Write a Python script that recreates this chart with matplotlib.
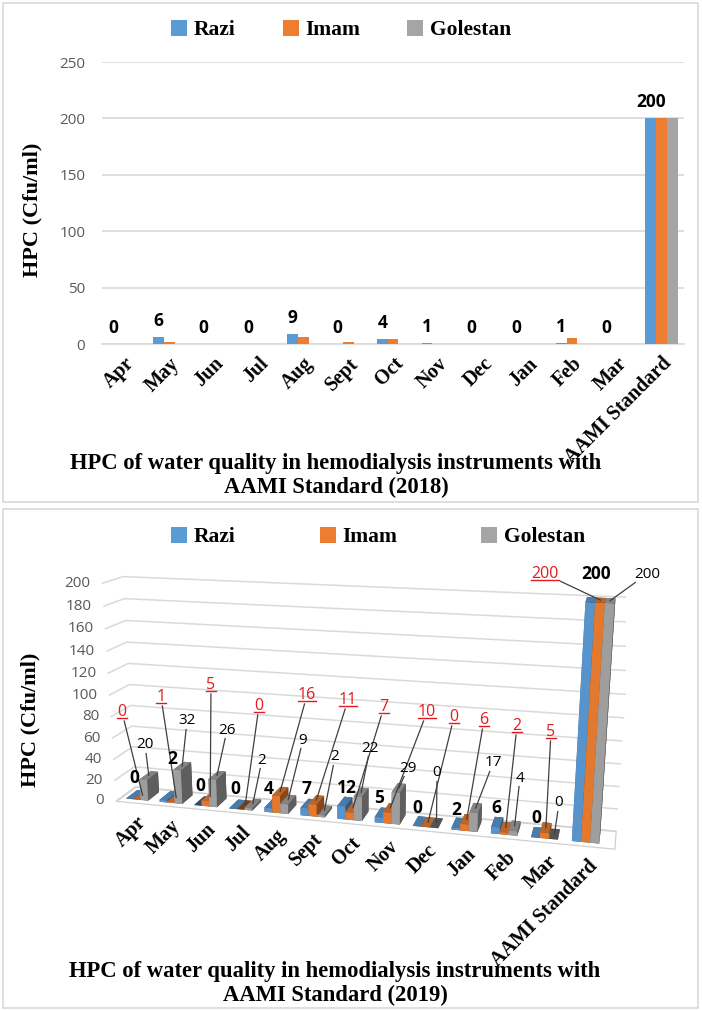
"""Two panels: HPC of water quality in hemodialysis instruments, 2018 (flat bars) and 2019 (3D bars)."""
import numpy as np
import matplotlib
matplotlib.use("Agg")
import matplotlib.pyplot as plt
from matplotlib.patches import Rectangle
from matplotlib.colors import LightSource
from mpl_toolkits.mplot3d.art3d import Poly3DCollection

# ---- data ----
months = ["Apr", "May", "Jun", "Jul", "Aug", "Sept", "Oct", "Nov", "Dec",
          "Jan", "Feb", "Mar", "AAMI Standard"]
series = ["Razi", "Imam", "Golestan"]
colors = ["#5B9BD5", "#ED7D31", "#A5A5A5"]

razi_2018 = [0, 6, 0, 0, 9, 0, 4, 1, 0, 0, 1, 0, 200]
imam_2018 = [0, 2, 0, 0, 6, 2, 4, 0, 0, 0, 5, 0, 200]
golestan_2018 = [0, 0, 0, 0, 0, 0, 0, 0, 0, 0, 0, 0, 200]

razi_2019 = [0, 2, 0, 0, 4, 7, 12, 5, 0, 2, 6, 0, 200]
imam_2019 = [0, 1, 5, 0, 16, 11, 7, 10, 0, 6, 2, 5, 200]
golestan_2019 = [20, 32, 26, 2, 9, 2, 22, 29, 0, 17, 4, 0, 200]

# hand placed label spots of the 2019 panel (image pixels)
razi_lbl_xy = [(134, 778), (172, 759), (200, 786), (235, 789), (269, 789), (306, 789), (347, 788),
               (379, 798), (417, 808), (456, 810), (496, 808), (536, 818), (596, 574)]
imam_lbl_xy = [(122, 712), (161, 697), (211, 685), (259, 706), (307, 695), (348, 700), (384, 707),
               (427, 712), (454, 717), (484, 720), (517, 726), (551, 732), (545, 574)]
gol_lbl_xy = [(145, 745), (187, 721), (227, 730), (262, 760), (303, 740), (335, 757), (370, 748),
              (408, 768), (437, 773), (493, 763), (520, 778), (559, 803), (647, 574)]

SERIF = "Liberation Serif"
SANS = "Open Sans"
RED = "#E31A1C"
W, H = 702, 1010

fig = plt.figure(figsize=(W / 100, H / 100), dpi=100)

# overlay in image pixels, for frames, titles and labels
ov = fig.add_axes([0, 0, 1, 1])
ov.set_xlim(0, W)
ov.set_ylim(H, 0)
ov.axis("off")
ov.patch.set_alpha(0)
ov.set_zorder(10)
ov.add_patch(Rectangle((2.5, 2.5), 695, 499, fill=False, ec="#D9D9D9", lw=1.2))
ov.add_patch(Rectangle((2.5, 508.5), 695, 499, fill=False, ec="#D9D9D9", lw=1.2))

# ---------------- 2018 panel ----------------
ax = fig.add_axes([102 / W, 1 - 344 / H, 582 / W, 282 / H])
x = np.arange(len(months))
bw = 0.24
bars = []
for j, vals in enumerate([razi_2018, imam_2018, golestan_2018]):
    bars.append(ax.bar(x + (j - 1) * bw, vals, width=bw, color=colors[j], label=series[j], zorder=3))
for xi, v in zip(x, razi_2018):
    ax.annotate(str(v), (xi - bw, v), xytext=(0, 11), textcoords="offset pixels",
                ha="center", va="baseline", fontfamily=SANS, fontweight="bold", fontsize=12.5)
ax.set_xlim(-0.5, 12.5)
ax.set_ylim(0, 250)
ax.set_yticks(range(0, 251, 50))
ax.grid(axis="y", color="#D9D9D9", lw=1.2, zorder=0)
for s in ["top", "left", "right"]:
    ax.spines[s].set_visible(False)
ax.spines["bottom"].set_color("#D9D9D9")
ax.spines["bottom"].set_linewidth(1.2)
ax.tick_params(axis="y", length=0, pad=12, labelsize=11, labelcolor="#595959")
for t in ax.get_yticklabels():
    t.set_fontfamily(SANS)
ax.set_xticks(x)
ax.set_xticklabels(months, rotation=45, ha="right", rotation_mode="anchor",
                   fontfamily=SERIF, fontweight="bold", fontsize=14.5)
ax.tick_params(axis="x", length=0, pad=7)

fig.legend(handles=bars, labels=series, loc="center", bbox_to_anchor=(341 / W, 1 - 30 / H), ncol=3,
           frameon=False, prop=dict(family=SERIF, weight="bold", size=15.5),
           handlelength=0.75, handleheight=0.75, handletextpad=0.3, columnspacing=2.2)
ov.text(32, 210, "HPC (Cfu/ml)", rotation=90, ha="center", va="center",
        fontfamily=SERIF, fontweight="bold", fontsize=16)
ov.text(336, 463, "HPC of water quality in hemodialysis instruments with", ha="center", va="center",
        fontfamily=SERIF, fontweight="bold", fontsize=16.3)
ov.text(336, 487, "AAMI Standard (2018)", ha="center", va="center",
        fontfamily=SERIF, fontweight="bold", fontsize=16.3)

# ---------------- 2019 panel (3D) ----------------
S = 553.5
ax3 = fig.add_axes([72.5 / W, 19.8 / H, S / W, S / H], projection="3d")
ax3.patch.set_facecolor("none")
ax3.set_axis_off()
ax3.computed_zorder = False
ax3.set_proj_type("persp", focal_length=0.36)
ax3.view_init(elev=15.4, azim=-75.5)
ax3.set_xlim(-0.5, 12.7)
ax3.set_ylim(0, 1)
ax3.set_zlim(0, 200)
ax3.set_box_aspect((510, 45, 230))

zt = list(range(0, 201, 20))
for z in zt:
    ax3.plot([-0.5, -0.5, 12.7], [0, 1, 1], [z, z, z], color="#D9D9D9", lw=1.1, zorder=1)
floor = Poly3DCollection([[(-0.5, 0, 0), (12.7, 0, 0), (12.7, 1, 0), (-0.5, 1, 0)]],
                         facecolor="white", edgecolor="#D0D0D0", lw=0.9, zorder=2)
ax3.add_collection3d(floor)

bx, bz, bc = [], [], []
for j, vals in enumerate([razi_2019, imam_2019, golestan_2019]):
    for i, v in enumerate(vals):
        bx.append(i - 0.33 + 0.22 * j)
        bz.append(v)
        bc.append(colors[j])
bx = np.array(bx)
bz = np.array(bz, dtype=float)
with np.errstate(invalid="ignore", divide="ignore"):
    ax3.bar3d(bx, np.full(len(bx), 0.2), np.zeros(len(bx)), 0.22, 0.6, bz,
              color=bc, shade=True, lightsource=LightSource(azdeg=195, altdeg=25), zorder=3)

fig.canvas.draw()
M = ax3.get_proj()


def to_px(xx, yy, zz):
    p = M @ np.array([xx, yy, zz, 1.0])
    d = ax3.transData.transform((p[0] / p[3], p[1] / p[3]))
    return d[0], H - d[1]


for z in zt:
    gx, gy = to_px(-0.5, 0, z)
    ov.text(gx - 12, gy, str(z), ha="right", va="center", fontfamily=SANS,
            fontsize=11, color="#595959")
for i, m in enumerate(months):
    tx, ty = to_px(i, 0, 0)
    ov.text(tx + 3, ty + 10, m, rotation=45, ha="right", va="top", rotation_mode="anchor",
            fontfamily=SERIF, fontweight="bold", fontsize=14.5)

# data labels; Imam and Golestan ones are tied to their bars by leader lines
pending = []
for i in range(len(months)):
    ov.text(*razi_lbl_xy[i], str(razi_2019[i]), ha="center", va="center",
            fontfamily=SANS, fontweight="bold", fontsize=12.5)
    t = ov.text(*imam_lbl_xy[i], str(imam_2019[i]), ha="center", va="center",
                color=RED, fontfamily=SANS, fontsize=11.5)
    pending.append((t, to_px(i, 0.5, imam_2019[i]), True))
    t = ov.text(*gol_lbl_xy[i], str(golestan_2019[i]), ha="center", va="center",
                fontfamily=SANS, fontsize=11)
    pending.append((t, to_px(i + 0.22, 0.5, golestan_2019[i]), False))

rend = fig.canvas.get_renderer()
for t, (px, py), underline in pending:
    bb = t.get_window_extent(rend)
    x0, x1 = bb.x0, bb.x1
    ytop, ybot = H - bb.y1, H - bb.y0
    if underline:
        ov.plot([x0, x1], [ybot - 2, ybot - 2], color=RED, lw=1)
    cx, cy = t.get_position()
    dx, dy = px - cx, py - cy
    hw, hh = (x1 - x0) / 2 + 2, (ybot - ytop) / 2 + 1
    k = min(hw / abs(dx) if dx else np.inf, hh / abs(dy) if dy else np.inf)
    if k < 1:
        ov.plot([cx + dx * k, px], [cy + dy * k, py], color="#404040", lw=0.9)

fig.legend(handles=bars, labels=series, loc="center", bbox_to_anchor=(378 / W, 1 - 537 / H), ncol=3,
           frameon=False, prop=dict(family=SERIF, weight="bold", size=15.5),
           handlelength=0.75, handleheight=0.75, handletextpad=0.3, columnspacing=3.9)
ov.text(30, 720, "HPC (Cfu/ml)", rotation=90, ha="center", va="center",
        fontfamily=SERIF, fontweight="bold", fontsize=16)
ov.text(335, 971, "HPC of water quality in hemodialysis instruments with", ha="center", va="center",
        fontfamily=SERIF, fontweight="bold", fontsize=16.3)
ov.text(335, 995, "AAMI Standard (2019)", ha="center", va="center",
        fontfamily=SERIF, fontweight="bold", fontsize=16.3)

fig.savefig("out.png", dpi=100)
